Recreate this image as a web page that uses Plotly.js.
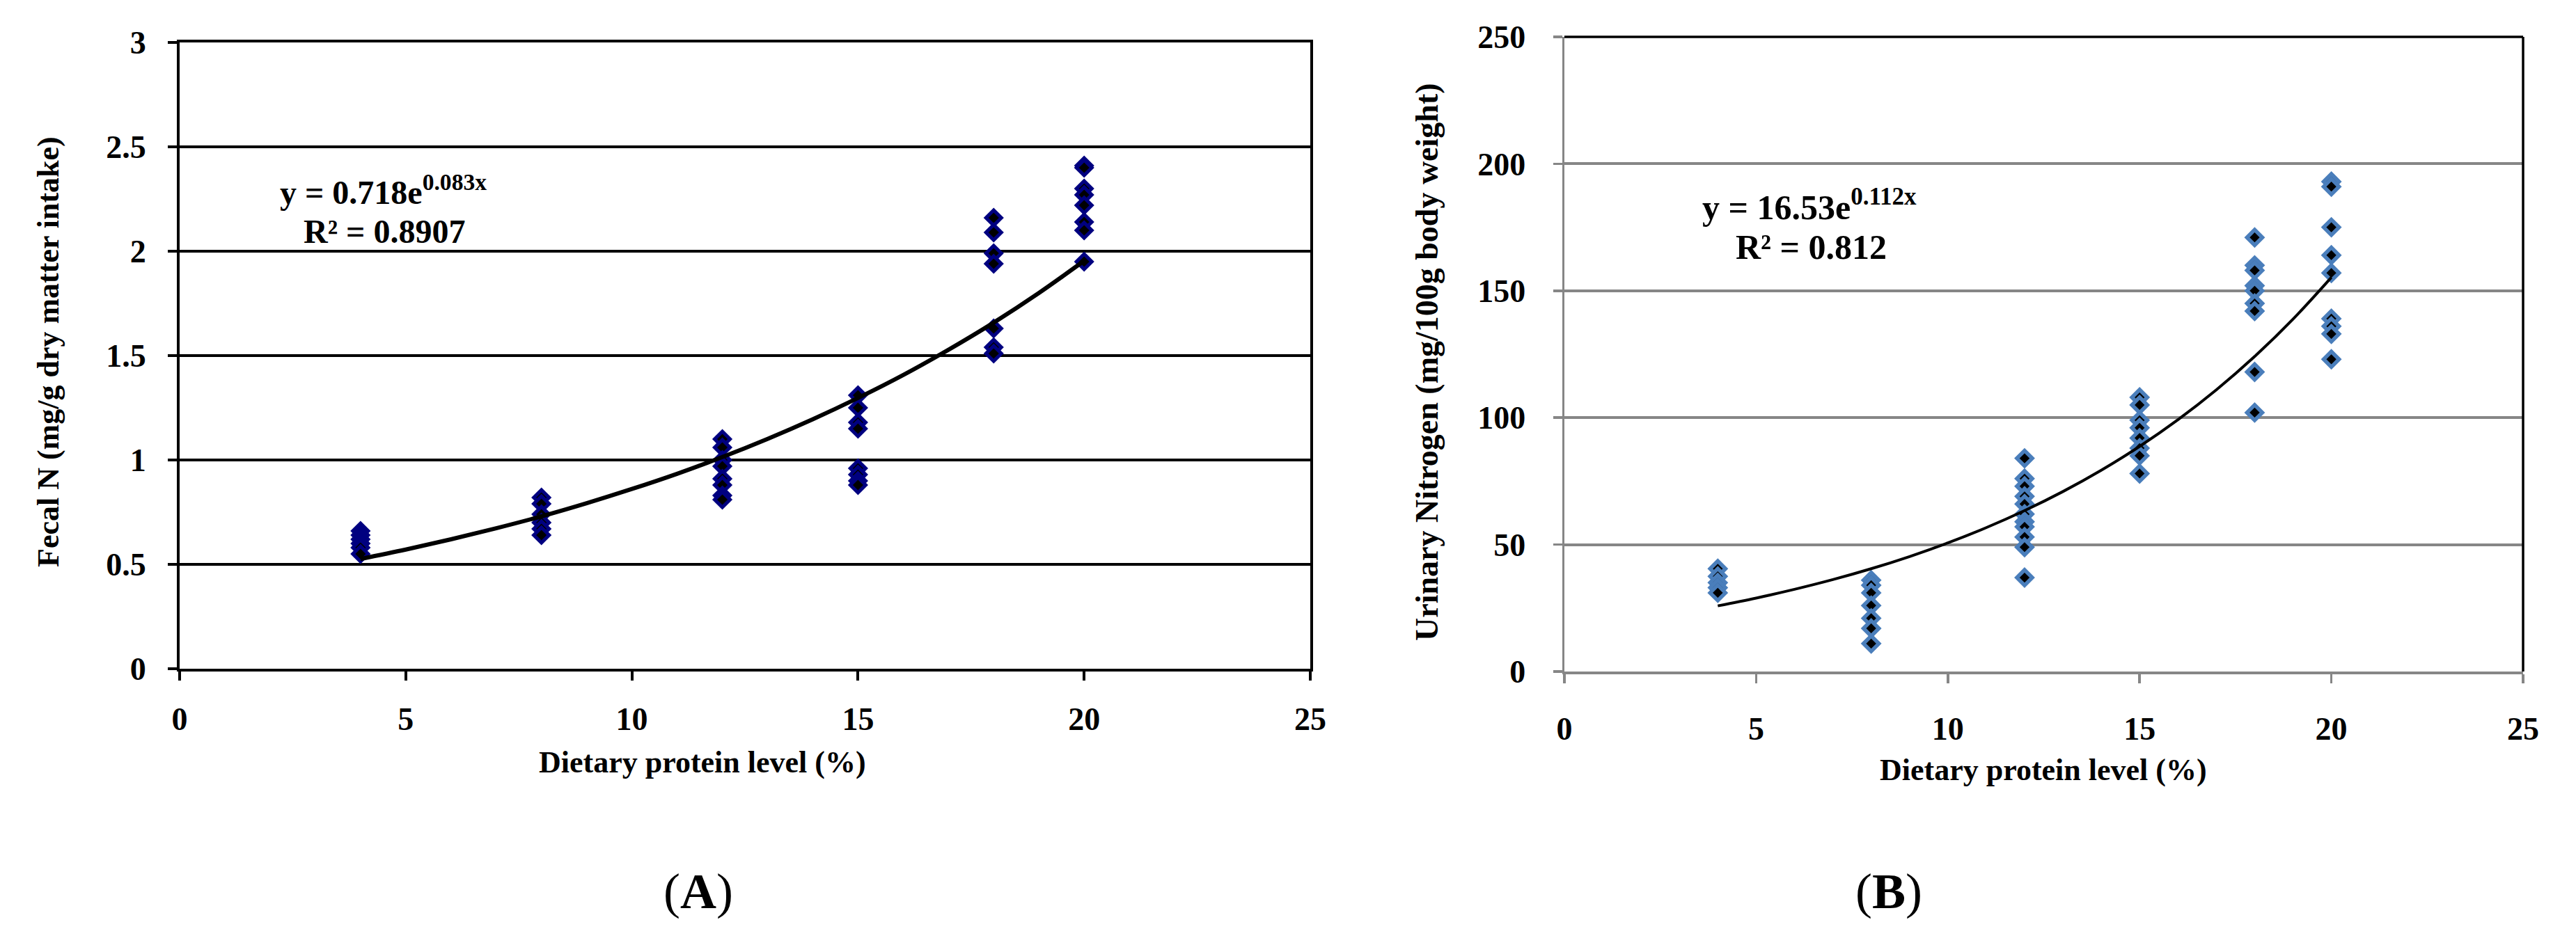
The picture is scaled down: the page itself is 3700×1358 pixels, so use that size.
<!DOCTYPE html>
<html>
<head>
<meta charset="utf-8">
<script src="https://cdn.plot.ly/plotly-3.0.1.min.js"></script>
<style>html,body{margin:0;padding:0;background:#fff;}#chart{width:3700px;height:1358px;}</style>
</head>
<body>
<div id="chart"></div>
<script>
// ---------- DATA ----------
const proteinLevels = [4, 8, 12, 15, 18, 20];

// Panel A: Fecal N (mg/g dry matter intake)
const fecalN_p4  = [0.66, 0.64, 0.62, 0.60, 0.58, 0.55];
const fecalN_p8  = [0.82, 0.79, 0.74, 0.70, 0.67, 0.64];
const fecalN_p12 = [1.10, 1.06, 1.00, 0.97, 0.91, 0.88, 0.83, 0.81];
const fecalN_p15 = [1.31, 1.25, 1.18, 1.15, 0.96, 0.93, 0.90, 0.88];
const fecalN_p18 = [2.16, 2.09, 1.99, 1.94, 1.63, 1.54, 1.51];
const fecalN_p20 = [2.41, 2.40, 2.30, 2.27, 2.22, 2.14, 2.10, 1.95];

// Panel B: Urinary Nitrogen (mg/100g body weight)
const urinaryN_p4  = [40.5, 37.5, 35, 33, 31];
const urinaryN_p8  = [36, 34, 31, 26, 21, 17, 11];
const urinaryN_p12 = [84, 76, 73, 69, 66, 62, 59, 57, 53, 49, 37];
const urinaryN_p15 = [108, 105, 99, 96, 92, 88, 85, 78];
const urinaryN_p18 = [171, 160, 158, 152, 150, 145, 142, 118, 102];
const urinaryN_p20 = [193, 191, 175, 164, 157, 139, 136, 133, 123];

// Trend curves at each protein level
const trendX      = [4, 5, 6, 7, 8, 9, 10, 11, 12, 13, 14, 15, 16, 17, 18, 19, 20];
const fecalTrend  = [0.526, 0.571, 0.620, 0.673, 0.730, 0.793, 0.861, 0.934, 1.014, 1.101, 1.195, 1.297, 1.407, 1.528, 1.658, 1.800, 1.954];
const urinaryTrend = [25.87, 28.94, 32.37, 36.20, 40.49, 45.29, 50.66, 56.67, 63.38, 70.89, 79.29, 88.69, 99.20, 110.96, 124.11, 138.82, 155.27];

// Texts
const xTitle = 'Dietary protein level (%)';
const yTitleA = 'Fecal N (mg/g dry matter intake)';
const yTitleB = 'Urinary Nitrogen (mg/100g body weight)';
const eqA = 'y = 0.718e<sup>0.083x</sup>';
const r2A = 'R² = 0.8907';
const eqB = 'y = 16.53e<sup>0.112x</sup>';
const r2B = 'R² = 0.812';

// ---------- BUILD ----------
function flatten(groups) {
  const xs = [], ys = [];
  groups.forEach((g, i) => g.forEach(v => { xs.push(proteinLevels[i]); ys.push(v); }));
  return {xs, ys};
}
const A = flatten([fecalN_p4, fecalN_p8, fecalN_p12, fecalN_p15, fecalN_p18, fecalN_p20]);
const B = flatten([urinaryN_p4, urinaryN_p8, urinaryN_p12, urinaryN_p15, urinaryN_p18, urinaryN_p20]);

const FONT = 'Liberation Serif, Times New Roman, serif';
const W = 3700, H = 1358;
const px = v => v / W;
const py = v => 1 - v / H;

const traces = [
  {x: A.xs, y: A.ys, xaxis: 'x', yaxis: 'y', type: 'scatter', mode: 'markers',
   marker: {symbol: 'diamond', size: 17, color: '#000000', line: {color: '#000080', width: 5}},
   showlegend: false, hoverinfo: 'x+y'},
  {x: trendX, y: fecalTrend, xaxis: 'x', yaxis: 'y', type: 'scatter', mode: 'lines',
   line: {color: '#000000', width: 6, shape: 'spline'}, showlegend: false},
  {x: B.xs, y: B.ys, xaxis: 'x2', yaxis: 'y2', type: 'scatter', mode: 'markers',
   marker: {symbol: 'diamond', size: 17, color: '#000000', line: {color: '#4A7EBB', width: 5.5}},
   showlegend: false, hoverinfo: 'x+y'},
  {x: trendX, y: urinaryTrend, xaxis: 'x2', yaxis: 'y2', type: 'scatter', mode: 'lines',
   line: {color: '#000000', width: 4, shape: 'spline'}, showlegend: false}
];

const tickFont = {family: FONT, size: 46, color: '#000', weight: 'bold'};

const layout = {
  width: W, height: H,
  margin: {l: 0, r: 0, t: 0, b: 0, pad: 0},
  paper_bgcolor: '#ffffff', plot_bgcolor: '#ffffff',
  font: {family: FONT, color: '#000'},
  xaxis: {
    domain: [px(258), px(1882)], range: [0, 25], tick0: 0, dtick: 5,
    showgrid: false, zeroline: false,
    showline: true, linecolor: '#000', linewidth: 4, mirror: true,
    ticks: 'outside', ticklen: 13, tickwidth: 4, tickcolor: '#000',
    tickfont: tickFont, ticklabelstandoff: 16, fixedrange: true
  },
  yaxis: {
    domain: [py(961), py(61)], range: [0, 3], tick0: 0, dtick: 0.5,
    showgrid: true, gridcolor: '#000', gridwidth: 4, zeroline: false,
    showline: true, linecolor: '#000', linewidth: 4, mirror: true,
    ticks: 'outside', ticklen: 13, tickwidth: 4, tickcolor: '#000',
    tickfont: tickFont, ticklabelstandoff: 22, fixedrange: true
  },
  xaxis2: {
    domain: [px(2247), px(3624)], range: [0, 25], tick0: 0, dtick: 5, anchor: 'y2',
    showgrid: false, zeroline: false,
    showline: true, linecolor: '#868686', linewidth: 3.5,
    ticks: 'outside', ticklen: 13, tickwidth: 3.5, tickcolor: '#868686',
    tickfont: tickFont, ticklabelstandoff: 26, fixedrange: true
  },
  yaxis2: {
    domain: [py(965), py(53)], range: [0, 250], tick0: 0, dtick: 50, anchor: 'x2',
    showgrid: true, gridcolor: '#868686', gridwidth: 4, zeroline: false,
    showline: true, linecolor: '#868686', linewidth: 3.5,
    ticks: 'outside', ticklen: 13, tickwidth: 3.5, tickcolor: '#868686',
    tickfont: tickFont, ticklabelstandoff: 30, fixedrange: true
  },
  shapes: [
    {type: 'line', xref: 'x2 domain', yref: 'y2 domain', x0: 0, x1: 1, y0: 1, y1: 1,
     line: {color: '#000', width: 3.5}, layer: 'above'},
    {type: 'line', xref: 'x2 domain', yref: 'y2 domain', x0: 1, x1: 1, y0: 0, y1: 1,
     line: {color: '#000', width: 3.5}, layer: 'above'}
  ],
  annotations: [
    {text: xTitle, xref: 'paper', yref: 'paper', x: px(1009), y: py(1095), xanchor: 'center', yanchor: 'middle',
     showarrow: false, font: {family: FONT, size: 44, color: '#000', weight: 'bold'}},
    {text: yTitleA, xref: 'paper', yref: 'paper', x: px(69), y: py(506), xanchor: 'center', yanchor: 'middle',
     textangle: -90, showarrow: false, font: {family: FONT, size: 44, color: '#000', weight: 'bold'}},
    {text: eqA, xref: 'paper', yref: 'paper', x: px(400), y: py(273), xanchor: 'left', yanchor: 'middle',
     showarrow: false, font: {family: FONT, size: 48, color: '#000', weight: 'bold'}},
    {text: r2A, xref: 'paper', yref: 'paper', x: px(434), y: py(332), xanchor: 'left', yanchor: 'middle',
     showarrow: false, font: {family: FONT, size: 48, color: '#000', weight: 'bold'}},
    {text: '(<b>A</b>)', xref: 'paper', yref: 'paper', x: px(1003), y: py(1281), xanchor: 'center', yanchor: 'middle',
     showarrow: false, font: {family: FONT, size: 72, color: '#000'}},

    {text: xTitle, xref: 'paper', yref: 'paper', x: px(2935), y: py(1106), xanchor: 'center', yanchor: 'middle',
     showarrow: false, font: {family: FONT, size: 44, color: '#000', weight: 'bold'}},
    {text: yTitleB, xref: 'paper', yref: 'paper', x: px(2049), y: py(520), xanchor: 'center', yanchor: 'middle',
     textangle: -90, showarrow: false, font: {family: FONT, size: 46, color: '#000', weight: 'bold'}},
    {text: eqB, xref: 'paper', yref: 'paper', x: px(2443), y: py(294), xanchor: 'left', yanchor: 'middle',
     showarrow: false, font: {family: FONT, size: 50, color: '#000', weight: 'bold'}},
    {text: r2B, xref: 'paper', yref: 'paper', x: px(2491), y: py(355), xanchor: 'left', yanchor: 'middle',
     showarrow: false, font: {family: FONT, size: 50, color: '#000', weight: 'bold'}},
    {text: '(<b>B</b>)', xref: 'paper', yref: 'paper', x: px(2713), y: py(1281), xanchor: 'center', yanchor: 'middle',
     showarrow: false, font: {family: FONT, size: 72, color: '#000'}}
  ]
};

Plotly.newPlot('chart', traces, layout, {displayModeBar: false, staticPlot: true});
</script>
</body>
</html>
